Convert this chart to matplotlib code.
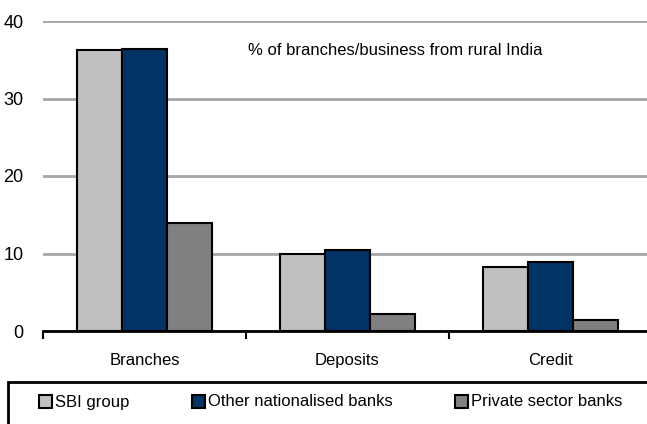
import matplotlib.pyplot as plt
import numpy as np
from matplotlib.patches import Rectangle

plt.rcParams['font.family'] = ['Liberation Sans', 'DejaVu Sans']

categories = ["Branches", "Deposits", "Credit"]
series_names = ["SBI group", "Other nationalised banks", "Private sector banks"]
sbi_group = [36.3, 9.9, 8.3]
other_nationalised = [36.4, 10.4, 8.9]
private_sector = [13.9, 2.2, 1.4]
yticks = [0, 10, 20, 30, 40]
colors = ["#C0C0C0", "#003366", "#808080"]

fig = plt.figure(figsize=(6.47, 4.24), dpi=100)
W, H = 647, 424
ax = fig.add_axes([43 / W, 1 - 331 / H, (652 - 43) / W, (331 - 21) / H])

x = np.arange(len(categories))
width = 0.222
for i, (vals, name, c) in enumerate(zip([sbi_group, other_nationalised, private_sector],
                                        series_names, colors)):
    ax.bar(x + (i - 1) * width, vals, width, color=c, edgecolor="black",
           linewidth=1.5, label=name, zorder=3)

ax.set_ylim(0, 40)
ax.set_xlim(-0.5, 2.5)
ax.set_yticks(yticks)
ax.set_yticklabels([str(v) for v in yticks], fontsize=13)
ax.yaxis.grid(True, color="#A6A6A6", linewidth=2, zorder=0)
ax.tick_params(axis="y", length=0, pad=14)

# category labels centred, tick marks at group boundaries
ax.set_xticks([-0.5, 0.5, 1.5, 2.5])
ax.set_xticklabels([])
ax.tick_params(axis="x", length=6, width=1.5, direction="out", color="black")
for xi, lab in zip(x, categories):
    ax.text(xi, -0.095, lab, transform=ax.get_xaxis_transform(), ha="center",
            va="center", fontsize=12)

for s in ["left", "right", "top"]:
    ax.spines[s].set_visible(False)
ax.spines["bottom"].set_linewidth(2)
ax.spines["bottom"].set_zorder(4)

ax.text(0.578, 0.905, "% of branches/business from rural India",
        transform=ax.transAxes, ha="center", va="center", fontsize=12)

# legend frame running off the bottom and right edges
fig.patches.append(Rectangle((8 / W, -0.05), 1.0, 1 - 382 / H + 0.05,
                             transform=fig.transFigure, fill=False,
                             edgecolor="black", linewidth=2))
leg_items = [(39, "SBI group"), (192, "Other nationalised banks"),
             (455, "Private sector banks")]
for (px, name), c in zip(leg_items, colors):
    fig.patches.append(Rectangle((px / W, 1 - 408 / H), 13 / W, 13 / H,
                                 transform=fig.transFigure, facecolor=c,
                                 edgecolor="black", linewidth=1.5))
    fig.text((px + 16) / W, 1 - 402 / H, name, ha="left", va="center",
             fontsize=12)

fig.savefig("out.png", dpi=100)
